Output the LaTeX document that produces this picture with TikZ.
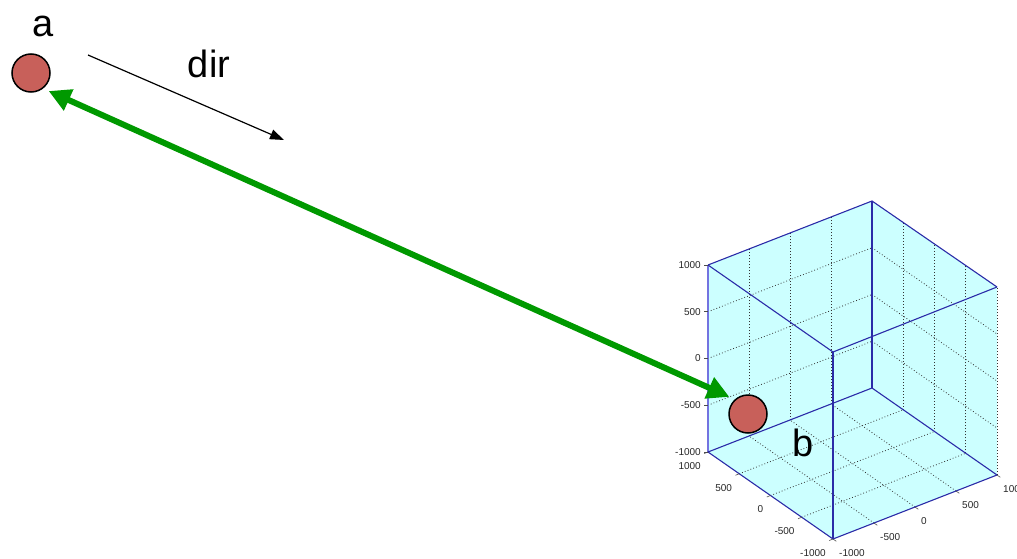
\documentclass[tikz,border=0pt]{standalone}
\usepackage{fontspec}
\setmainfont{Liberation Sans}
\usetikzlibrary{calc,arrows.meta}
\definecolor{ballred}{HTML}{C8605A}
\definecolor{boxcyan}{HTML}{CCFFFF}
\definecolor{boxblue}{HTML}{2B2BA8}
\definecolor{boxlight}{HTML}{7373E0}
\definecolor{arrgreen}{HTML}{009900}

\begin{document}
\begin{tikzpicture}[x=1pt, y=-1pt,
  ball/.style={circle, draw=black, line width=1.5pt, fill=ballred,
    minimum size=38pt, inner sep=0pt},
  biglbl/.style={font=\fontsize{38}{40}\selectfont, anchor=base},
  ticklbl/.style={font=\fontsize{10}{11}\selectfont, text=black!85, inner sep=0pt},
  gridln/.style={black!80, line width=0.8pt, dash pattern=on 0.8pt off 2.2pt},
  boxedge/.style={boxblue, line width=1.1pt}]

\useasboundingbox (0,0) rectangle (1017,559);

% Cube corners, measured in pixels of the picture (y runs down).
% O is the hidden back-bottom corner where the three grid planes meet.
\coordinate (O)   at (872,388);
\coordinate (Lb)  at (708,452);
\coordinate (Rb)  at (997,475);
\coordinate (Fb)  at (833,539);
\coordinate (Top) at (872,201);
\coordinate (Lt)  at (708,265);
\coordinate (Rt)  at (997,287);
\coordinate (Ft)  at (833,352);

% --- Cube body ---
\fill[boxcyan] (Lt) -- (Top) -- (Rt) -- (Rb) -- (Fb) -- (Lb) -- cycle;

% --- Dotted grid on the three back planes ---
\foreach \k in {0.25,0.5,0.75} {
  \draw[gridln] ($(Lb)!\k!(O)$) -- ($(Lt)!\k!(Top)$);
  \draw[gridln] ($(Lb)!\k!(Lt)$) -- ($(O)!\k!(Top)$);
  \draw[gridln] ($(O)!\k!(Rb)$) -- ($(Top)!\k!(Rt)$);
  \draw[gridln] ($(O)!\k!(Top)$) -- ($(Rb)!\k!(Rt)$);
  \draw[gridln] ($(Lb)!\k!(Fb)$) -- ($(O)!\k!(Rb)$);
  \draw[gridln] ($(Fb)!\k!(Rb)$) -- ($(Lb)!\k!(O)$);
}
\draw[gridln] (Rb) -- (Rt);

% --- Box edges ---
\draw[boxlight, line width=1.1pt] (Lb) -- (Lt);
\draw[boxedge] (Lt) -- (Top) -- (Rt);
\draw[boxedge] (Lt) -- (Ft) -- (Rt);
\draw[boxedge] (Ft) -- (Fb);
\draw[boxedge] (Top) -- (O);
\draw[boxedge] (Lb) -- (O) -- (Rb);
\draw[boxedge] (Lb) -- (Fb) -- (Rb);

% --- Ticks and tick labels ---
\foreach \k/\v in {0/1000,0.25/500,0.5/0,0.75/-500,1/-1000} {
  \draw[black!70, line width=0.6pt] ($(Lt)!\k!(Lb)$) -- ++(-4,0);
  \node[ticklbl, anchor=east] at ($(Lt)!\k!(Lb)+(-7,0)$) {\v};
  \draw[black!70, line width=0.6pt] ($(Lb)!\k!(Fb)$) -- ++(-3.7,1.5);
  \node[ticklbl, anchor=east] at ($(Lb)!\k!(Fb)+(-7,14)$) {\v};
}
\foreach \k/\v in {0/-1000,0.25/-500,0.5/0,0.75/500,1/1000} {
  \draw[black!70, line width=0.6pt] ($(Fb)!\k!(Rb)$) -- ++(3.3,2.3);
  \node[ticklbl, anchor=west] at ($(Fb)!\k!(Rb)+(6,14)$) {\v};
}

% --- Balls and labels ---
\node[ball] (ca) at (31,73) {};
\node[ball] (cb) at (748,414) {};
\node[biglbl] (la) at (43,37) {a};
\node[biglbl] (ldir) at (209,78) {dir};
\node[biglbl] (lb) at (803,456) {b};

% --- Direction arrow ---
\coordinate (dirs) at (88,55);
\coordinate (dire) at (284,140);
\draw[-{Triangle[length=14pt,width=10pt]}, line width=1.2pt] (dirs) -- (dire);

% --- Green arrow between the balls ---
\draw[{Triangle[length=22pt,width=22pt]}-{Triangle[length=22pt,width=22pt]},
  arrgreen, line width=6pt, shorten <=6pt, shorten >=6pt] (ca.-52) -- (cb.132);

\end{tikzpicture}
\end{document}
